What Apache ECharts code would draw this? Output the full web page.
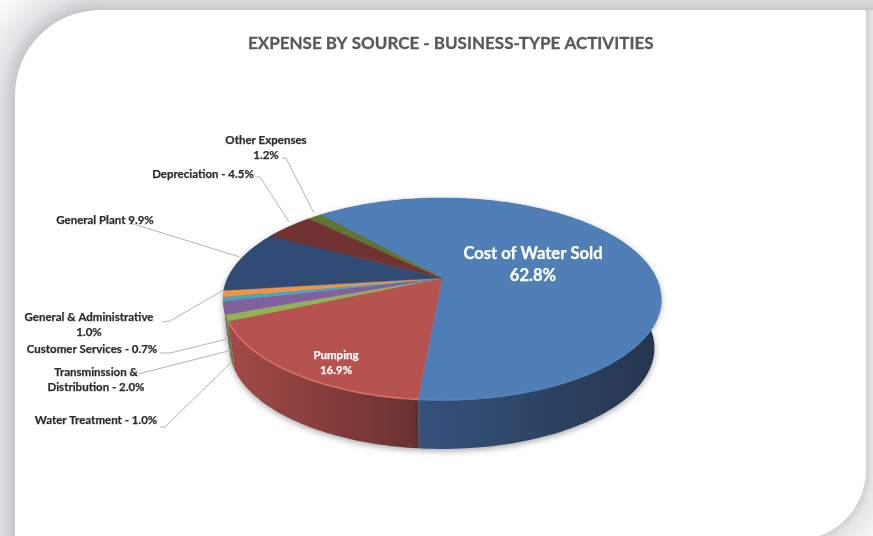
<!DOCTYPE html>
<html>
<head>
<meta charset="utf-8">
<style>html,body{margin:0;padding:0;background:#fff}#c{width:873px;height:536px}</style>
<script src="https://cdn.jsdelivr.net/npm/echarts@6/dist/echarts.min.js"></script>
</head>
<body>
<div id="c"></div>
<script>
// ---- data ----
const sliceNames = ['Cost of Water Sold','Pumping','Water Treatment','Transminssion & Distribution','Customer Services','General & Administrative','General Plant','Depreciation','Other Expenses'];
const sliceValues = [62.8,16.9,1.0,2.0,0.7,1.0,9.9,4.5,1.2];
const labelTexts = ['Cost of Water Sold\n62.8%','Pumping\n16.9%','Water Treatment - 1.0%','Transminssion &\nDistribution - 2.0%','Customer Services - 0.7%','General & Administrative\n1.0%','General Plant 9.9%','Depreciation - 4.5%','Other Expenses\n1.2%'];
const titleText = 'EXPENSE BY SOURCE - BUSINESS-TYPE ACTIVITIES';

// ---- styles and layout ----
const faceColors = ['#4f7fb6','#b65250','#93b155','#80619b','#4aa3bf','#ee9545','#2f4b74','#713331','#5f7531'];
const wallColors = [['#35527c','#26354e',416,662],['#a24a47','#693230',230,416],['#7d9a45','#7d9a45',0,1],['#6b5183','#6b5183',0,1],['#3d8aa2','#3d8aa2',0,1],['#c97c38','#c97c38',0,1],['#26405f','#26405f',0,1],['#5c2a28','#5c2a28',0,1],['#4e6028','#4e6028',0,1]];
const rimColors = ['#5284bc','#d9706b',null,null,null,null,null,null,null];
const labelPos = [[533,265],[336,363],[96,420],[96,380],[92,349],[89,325],[105,220],[203,174],[266,148]];
const leaderStart = [null,null,[[160,427],[165,427]],[[138,374]],[[160,353],[170,353]],[[162,322],[170,321]],[[130,223]],[[255,177],[260,177]],[[282,158],[286,158]]];
const leaderOffset = [null,null,[5,44],[5,43],[4,40],[1,-4],[0,-4],[0,-5],[-1,-4]];
const PIE = {cx:442, cy:278, A:96.6, B:214.2, k:0.208, depth:49, start:-41, bottomScale:0.97};
const total = sliceValues.reduce((a,b)=>a+b,0);

function rim(deg){
  const t = deg*Math.PI/180, X = Math.sin(t), Y = -Math.cos(t), d = 1-PIE.k*Y;
  return [PIE.cx+PIE.B*X/d, PIE.cy+PIE.A*Y/d];
}
function range(i){
  let s = 0; for(let j=0;j<i;j++) s += sliceValues[j];
  return [PIE.start+s/total*360, PIE.start+(s+sliceValues[i])/total*360];
}
function arc(i){
  const [a,b] = range(i), n = Math.max(2,Math.ceil((b-a)/1.5)), pts = [];
  for(let j=0;j<=n;j++) pts.push(rim(a+(b-a)*j/n));
  return pts;
}
function renderWall(p,api){
  const i = p.dataIndex, pts = arc(i), w = wallColors[i];
  const low = pts.map(q=>[PIE.cx+(q[0]-PIE.cx)*PIE.bottomScale,q[1]+PIE.depth]).reverse();
  return {type:'polygon',z2:100-i,shape:{points:pts.concat(low)},style:{
    fill:{type:'linear',x:w[2],y:0,x2:w[3],y2:0,global:true,colorStops:[{offset:0,color:w[0]},{offset:1,color:w[1]}]},
    shadowBlur:6,shadowColor:'rgba(0,0,0,0.35)',shadowOffsetY:2}};
}
function renderFace(p,api){
  const i = p.dataIndex, pts = arc(i), kids = [{type:'polygon',shape:{points:[[PIE.cx,PIE.cy]].concat(pts)},style:{fill:faceColors[i],stroke:faceColors[i],lineWidth:0.5}}];
  if(rimColors[i]){
    const front = pts.filter(q=>q[1]>PIE.cy+19);
    kids.push({type:'polyline',shape:{points:front},style:{fill:'none',stroke:rimColors[i],lineWidth:1.6}});
  }
  return {type:'group',children:kids};
}
function renderLabel(p,api){
  const i = p.dataIndex, kids = [], big = i===0, inner = i<2, ink = inner?'#ffffff':'#2d2d2d';
  if(leaderStart[i]){
    const [a,b] = range(i), e = rim((a+b)/2), o = leaderOffset[i];
    kids.push({type:'polyline',shape:{points:leaderStart[i].concat([[e[0]+o[0],e[1]+o[1]]])},style:{fill:'none',stroke:'#b4b4b4',lineWidth:1}});
  }
  kids.push({type:'text',style:{text:labelTexts[i],x:labelPos[i][0],y:labelPos[i][1],align:'center',verticalAlign:'middle',
    font:(big?'bold 16.6px':'bold 11.5px')+' Lato, "Open Sans", sans-serif',lineHeight:big?22:15,fill:ink,stroke:ink,lineWidth:0.25}});
  return {type:'group',children:kids};
}
// frame: one flat strip per pixel for the bands, radial fades for the two round corners
function mix(a,b,t){return 'rgb('+a.map((v,k)=>Math.round(v+(b[k]-v)*t)).join(',')+')';}
const frame = [
  {type:'rect',z:0,shape:{x:0,y:0,width:873,height:536},style:{fill:'#ffffff'}},
  {type:'rect',z:1,shape:{x:0,y:0,width:100,height:95},style:{fill:{type:'radial',x:100,y:95,r:138,global:true,colorStops:[{offset:0.616,color:'#c4c6c8'},{offset:0.725,color:'#e2e3e4'},{offset:1,color:'#ffffff'}]}}},
  {type:'rect',z:1,shape:{x:796,y:470,width:77,height:66},style:{fill:{type:'radial',x:796,y:470,r:112,global:true,colorStops:[{offset:0.625,color:'#cfd0d1'},{offset:0.6875,color:'#e4e5e5'},{offset:1,color:'#ffffff'}]}}},
  {type:'rect',z:2,shape:{x:15,y:10,width:851,height:530,r:[85,0,70,0]},style:{fill:'#ffffff'}}
];
for(let n=0;n<10;n++) frame.push({type:'rect',z:10,shape:{x:100,y:n,width:773,height:1},style:{fill:mix([217,218,218],[200,201,202],n/9)}});
for(let n=0;n<15;n++) frame.push({type:'rect',z:10,shape:{x:n,y:95,width:1,height:441},style:{fill:mix([224,225,227],[196,198,200],n/14)}});
for(let n=0;n<7;n++) frame.push({type:'rect',z:10,shape:{x:866+n,y:10,width:1,height:460},style:{fill:mix([207,208,209],[228,229,229],n/6)}});

const seriesData = sliceValues.map((v,i)=>({name:sliceNames[i],value:[v]}));
const chart = echarts.init(document.getElementById('c'),null,{renderer:'canvas'});
chart.setOption({
  animation:false,
  backgroundColor:'#ffffff',
  title:{text:titleText,left:248,top:35,padding:0,textStyle:{fontFamily:'Lato, "Open Sans", sans-serif',fontWeight:'bold',fontSize:17,color:'#595959',textBorderColor:'#595959',textBorderWidth:0.3}},
  graphic:{elements:frame},
  series:[
    {type:'custom',name:'walls',coordinateSystem:'none',silent:true,z:3,renderItem:renderWall,data:seriesData},
    {type:'custom',name:'faces',coordinateSystem:'none',silent:true,z:4,renderItem:renderFace,data:seriesData},
    {type:'custom',name:'labels',coordinateSystem:'none',silent:true,z:5,renderItem:renderLabel,data:seriesData}
  ]
});
</script>
</body>
</html>
